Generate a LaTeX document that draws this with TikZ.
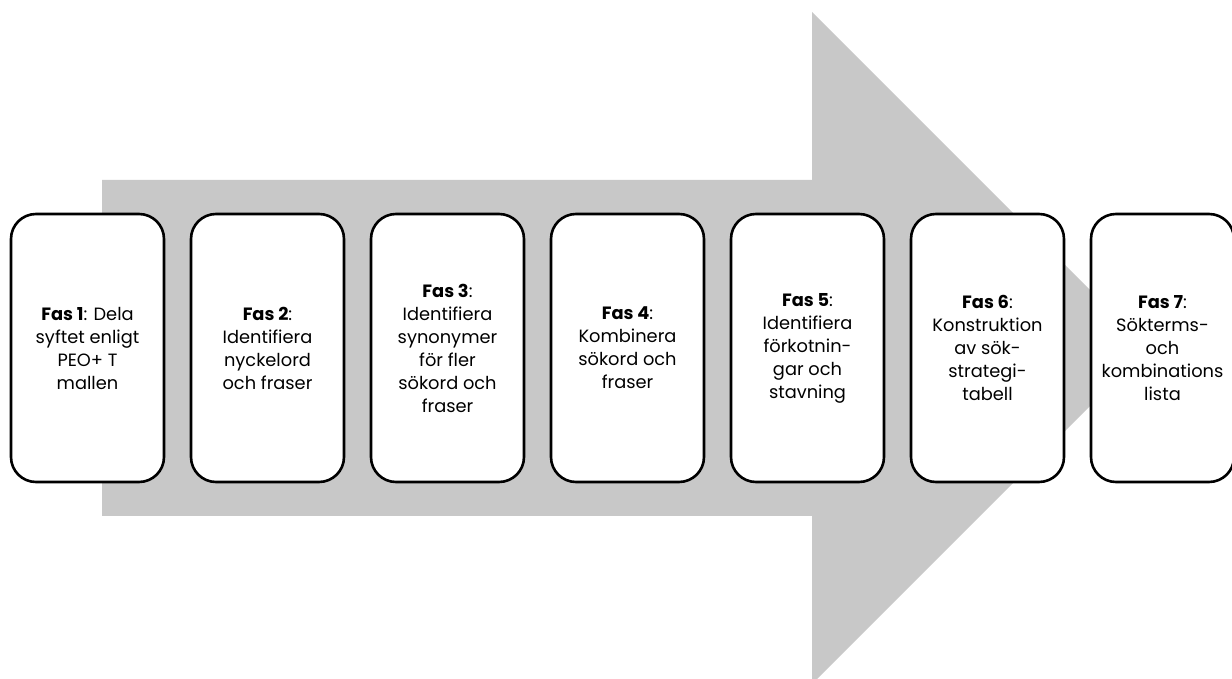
\documentclass[tikz,border=0pt]{standalone}
\usepackage{fontspec}
\setmainfont{Poppins}
\usetikzlibrary{positioning}
\definecolor{arrowgray}{RGB}{200,200,200}
\tikzset{
  fasbox/.style={draw=black, line width=2.6pt, fill=white, rounded corners=25pt,
    minimum width=153pt, minimum height=268pt, align=center, inner sep=0pt,
    font=\fontsize{17.8}{23}\selectfont},
}

\begin{document}
\begin{tikzpicture}[x=1pt, y=1pt]
  \path[use as bounding box, clip] (0,0) rectangle (1232,678);
  % big arrow behind the phases
  \fill[arrowgray] (102,162) -- (102,498) -- (812,498) -- (812,666) -- (1148,330)
    -- (812,-6) -- (812,162) -- cycle;

  \node[fasbox] (fas1) at (87.5,330) {\textbf{Fas 1}: Dela\\syftet enligt\\PEO+ T\\mallen};
  \node[fasbox, right=24.4pt of fas1] (fas2) {\textbf{Fas 2}:\\Identifiera\\nyckelord\\och fraser};
  \node[fasbox, right=24.4pt of fas2] (fas3) {\textbf{Fas 3}:\\Identifiera\\synonymer\\för fler\\sökord och\\fraser};
  \node[fasbox, right=24.4pt of fas3] (fas4) {\textbf{Fas 4}:\\Kombinera\\sökord och\\fraser};
  \node[fasbox, right=24.4pt of fas4] (fas5) {\textbf{Fas 5}:\\Identifiera\\förkotnin-\\gar och\\stavning};
  \node[fasbox, right=24.4pt of fas5] (fas6) {\textbf{Fas 6}:\\Konstruktion\\av sök-\\strategi-\\tabell};
  \node[fasbox, minimum width=143pt, right=24.4pt of fas6] (fas7) {\textbf{Fas 7}:\\Sökterms-\\och\\kombinations\\lista};
\end{tikzpicture}
\end{document}
